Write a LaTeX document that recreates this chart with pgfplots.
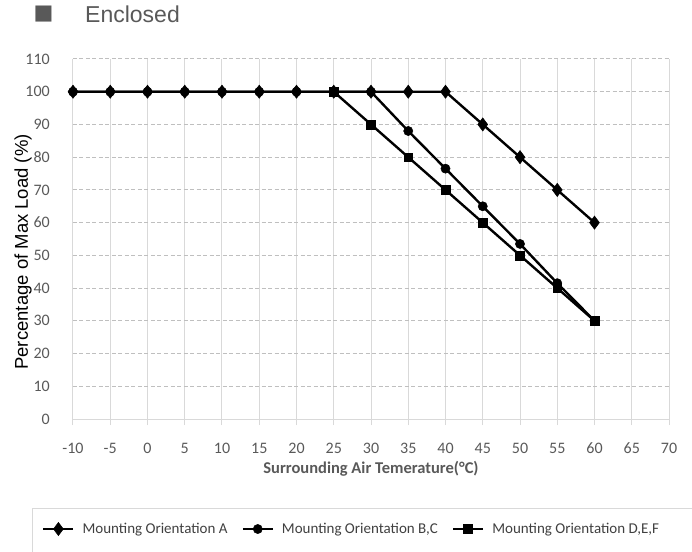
\documentclass[border=0pt]{standalone}
\usepackage{fontspec}
\setmainfont{Carlito}
\newfontfamily\arialfont{Liberation Sans}
\newfontfamily\symfont{DejaVu Sans}
\usepackage{pgfplots}
\pgfplotsset{compat=1.18}
\definecolor{txtgray}{HTML}{595959}
\definecolor{gridv}{HTML}{D9D9D9}
\definecolor{gridh}{HTML}{BFBFBF}
\definecolor{leggray}{HTML}{404040}

\begin{document}
\begin{tikzpicture}
\path[use as bounding box] (-73bp,-133bp) rectangle (619bp,419bp);
% title
\node[anchor=center, inner sep=0pt, text=txtgray, font=\symfont\fontsize{21bp}{21bp}\selectfont] at (-29.5bp,404.5bp) {■};
\node[anchor=base west, inner sep=0pt, text=txtgray, font=\arialfont\fontsize{23bp}{23bp}\selectfont] at (12bp,396bp) {Enclosed};
% legend frame
\draw[gridv, line width=1bp] (-40bp,-150bp) |- (640bp,-89bp);
\begin{axis}[
  scale only axis, width=596bp, height=360bp,
  xmin=-10, xmax=70, ymin=0, ymax=110,
  xtick={-10,-5,...,70}, ytick={0,10,...,110},
  axis lines*=left,
  x axis line style={gridv, line width=1bp},
  y axis line style={draw=none},
  xtick style={gridv, line width=1bp},
  ytick style={draw=none},
  tick align=outside, major tick length=6bp,
  xmajorgrids, ymajorgrids,
  major x grid style={gridv, line width=1bp},
  major y grid style={gridh, dash pattern=on 4bp off 2.5bp, line width=1bp},
  /pgf/number format/assume math mode=true,
  ticklabel style={font=\fontsize{16bp}{16bp}\selectfont, text=txtgray, inner sep=0pt},
  xticklabel style={anchor=base, yshift=-28bp},
  yticklabel style={anchor=east, xshift=-17bp},
  ylabel={Percentage of Max Load (\%)},
  ylabel style={at={(axis description cs:-0.0839,0.464)}, anchor=center,
    font=\arialfont\fontsize{18.5bp}{18.5bp}\selectfont, text=black},
  xlabel={Surrounding Air Temerature(°C)},
  xlabel style={at={(axis description cs:0.5,-0.1389)}, anchor=center,
    font=\bfseries\fontsize{16.5bp}{16.5bp}\selectfont, text=txtgray},
  reverse legend,
  legend columns=-1,
  legend image code/.code={\draw[mark repeat=2,mark phase=2,#1] plot coordinates {(0bp,0bp) (15bp,0bp) (30bp,0bp)};},
  legend style={draw=none, fill=none, at={(axis description cs:-0.052,-0.3056)}, anchor=west,
    inner sep=0pt, font=\fontsize{15bp}{15bp}\selectfont, text=leggray,
    nodes={inner sep=0pt},
    /tikz/every odd column/.append style={column sep=8bp},
    /tikz/every even column/.append style={column sep=14bp}},
  every axis plot/.append style={black, line width=2.4bp, mark options={solid, line width=0.5bp}},
]
\addplot[mark=square*, mark size=4.4bp] coordinates {
  (25,100) (30,90) (35,80) (40,70) (45,60) (50,50) (55,40) (60,30)
};
\addlegendentry{Mounting Orientation D,E,F}
\addplot[mark=*, mark size=4.6bp] coordinates {
  (-10,100) (-5,100) (0,100) (5,100) (10,100) (15,100) (20,100) (25,100)
  (30,100) (35,88) (40,76.5) (45,65) (50,53.5) (55,41.5) (60,30)
};
\addlegendentry{Mounting Orientation B,C}
\addplot[mark=diamond*, mark size=6.6bp] coordinates {
  (-10,100) (-5,100) (0,100) (5,100) (10,100) (15,100) (20,100) (25,100)
  (30,100) (35,100) (40,100) (45,90) (50,80) (55,70) (60,60)
};
\addlegendentry{Mounting Orientation A}
\end{axis}
\end{tikzpicture}
\end{document}
